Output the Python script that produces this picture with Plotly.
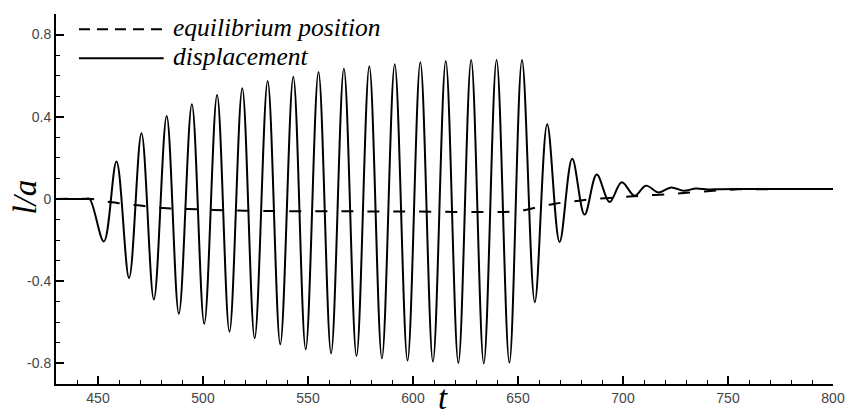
import plotly.graph_objects as go

# Displacement l/a: flat start, then turning points of the oscillation
t_disp = [430, 440, 444, 446,
          452.8, 458.8, 464.8, 470.7, 476.6, 482.7, 488.5, 494.7, 500.6, 506.7,
          512.6, 518.7, 524.6, 530.8, 536.8, 543.0, 548.9, 555.0, 561.0, 567.1,
          573.1, 579.2, 585.2, 591.3, 597.4, 603.5, 609.5, 615.6, 621.6, 627.7,
          633.7, 639.8, 645.9, 651.9, 658.0, 663.9, 669.8, 675.8, 681.7, 687.5,
          693.6, 699.4, 705.5, 710.9, 717.0, 722.9, 729.0, 734.7, 740.5, 746,
          760, 800]
l_disp = [0, 0, 0, 0,
          -0.207, 0.182, -0.384, 0.320, -0.489, 0.404, -0.558, 0.461, -0.607, 0.506,
          -0.646, 0.539, -0.677, 0.574, -0.707, 0.595, -0.731, 0.618, -0.751, 0.634,
          -0.764, 0.646, -0.775, 0.655, -0.786, 0.665, -0.791, 0.671, -0.798, 0.676,
          -0.800, 0.676, -0.796, 0.676, -0.502, 0.364, -0.209, 0.196, -0.076, 0.119,
          -0.015, 0.081, 0.016, 0.065, 0.032, 0.056, 0.040, 0.051, 0.046, 0.048,
          0.0485, 0.0485]

# Equilibrium position
t_eq = [430, 447, 450, 454, 457, 463, 469, 475, 481, 493, 505, 520, 540, 570,
        600, 648, 654, 661, 667, 673, 680, 686, 698, 709, 722, 733, 746, 755,
        770, 800]
l_eq = [0, 0, -0.004, -0.012, -0.016, -0.025, -0.031, -0.038, -0.044, -0.049,
        -0.053, -0.057, -0.059, -0.060, -0.061, -0.061, -0.052, -0.036, -0.024,
        -0.015, -0.007, 0.0, 0.008, 0.016, 0.024, 0.032, 0.042, 0.047, 0.048,
        0.048]

y_ticks = [-0.8, -0.4, 0, 0.4, 0.8]
y_ticktext = ["-0.8", "-0.4", "0", "0.4", "0.8"]
x_ticks = [450, 500, 550, 600, 650, 700, 750, 800]

fig = go.Figure()
fig.add_trace(go.Scatter(
    x=t_eq, y=l_eq, mode="lines", name="equilibrium position",
    line=dict(color="black", width=2, dash="12px,14px", shape="spline", smoothing=1),
    showlegend=False, hoverinfo="skip"))
fig.add_trace(go.Scatter(
    x=t_disp, y=l_disp, mode="lines", name="displacement",
    line=dict(color="black", width=2, shape="spline", smoothing=1),
    showlegend=False, hoverinfo="skip"))

axis_common = dict(
    showline=True, linecolor="black", linewidth=2, mirror=False,
    showgrid=False, zeroline=False,
    ticks="inside", ticklen=8, tickwidth=2, tickcolor="black",
    tickfont=dict(family="Liberation Sans", size=14, color="#444"),
)

fig.update_xaxes(range=[430, 800], tickmode="array", tickvals=x_ticks,
                 minor=dict(ticks="inside", ticklen=4, tickwidth=1,
                            tickcolor="black", dtick=10, tick0=0),
                 **axis_common)
fig.update_yaxes(range=[-0.9, 0.9], tickmode="array", tickvals=y_ticks,
                 ticktext=y_ticktext,
                 minor=dict(ticks="inside", ticklen=4, tickwidth=1,
                            tickcolor="black", dtick=0.1, tick0=0),
                 **axis_common)

# Legend drawn by hand: long line samples with italic labels
L, R, T, B = 55.7, 844.3, 14.0, 384.3
def px(x):
    return (x - L) / (R - L)
def py(y):
    return (B - y) / (B - T)

fig.add_shape(type="line", xref="paper", yref="paper",
              x0=px(79), x1=px(165), y0=py(29.3), y1=py(29.3),
              line=dict(color="black", width=2, dash="11px,7px"))
fig.add_shape(type="line", xref="paper", yref="paper",
              x0=px(79), x1=px(165), y0=py(58.3), y1=py(58.3),
              line=dict(color="black", width=2))

serif = dict(family="Liberation Serif, DejaVu Serif, serif", color="black")
fig.add_annotation(xref="paper", yref="paper", x=px(172), y=py(28),
                   text="<i>equilibrium position</i>", showarrow=False,
                   xanchor="left", yanchor="middle",
                   font=dict(size=25.5, **serif))
fig.add_annotation(xref="paper", yref="paper", x=px(172), y=py(57),
                   text="<i>displacement</i>", showarrow=False,
                   xanchor="left", yanchor="middle",
                   font=dict(size=25.5, **serif))

# Axis titles
fig.add_annotation(xref="paper", yref="paper", x=px(24), y=py(197),
                   text="<i>l/a</i>", showarrow=False, textangle=-90,
                   xanchor="center", yanchor="middle",
                   font=dict(size=33, **serif))
fig.add_annotation(xref="paper", yref="paper", x=px(448), y=py(418),
                   text="<i>t</i>", showarrow=False,
                   xanchor="center", yanchor="bottom",
                   font=dict(size=33, **serif))

fig.update_layout(
    width=857, height=418,
    margin=dict(l=L, r=857 - R, t=T, b=418 - B),
    paper_bgcolor="white", plot_bgcolor="white",
    showlegend=False,
)

fig.write_html("out.html")
